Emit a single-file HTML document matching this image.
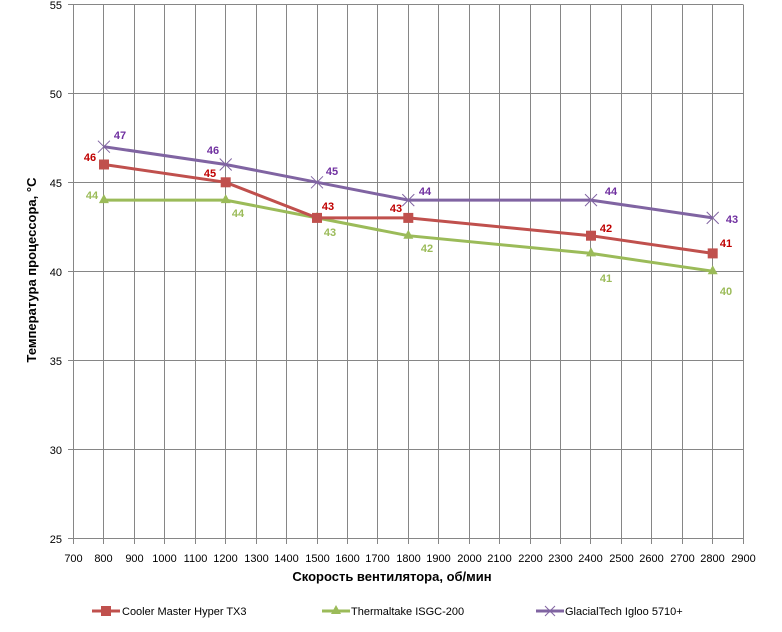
<!DOCTYPE html>
<html><head><meta charset="utf-8"><style>
body{margin:0;background:#fff}
svg{display:block;font-family:"Liberation Sans",sans-serif}
</style></head><body>
<svg width="782" height="632" viewBox="0 0 782 632">
<g stroke="#868686" stroke-width="1">
<line x1="73.5" y1="4.5" x2="73.5" y2="538.5"/>
<line x1="68" y1="4.5" x2="743" y2="4.5"/>
<line x1="68" y1="93.5" x2="743" y2="93.5"/>
<line x1="68" y1="182.5" x2="743" y2="182.5"/>
<line x1="68" y1="271.5" x2="743" y2="271.5"/>
<line x1="68" y1="360.5" x2="743" y2="360.5"/>
<line x1="68" y1="449.5" x2="743" y2="449.5"/>
<line x1="68" y1="538.5" x2="743" y2="538.5"/>
</g>
<g stroke="#868686" stroke-width="1" id="vg"></g>
<g font-size="11" fill="#000" text-anchor="end" id="yl">
<text x="62" y="9">55</text><text x="62" y="98">50</text><text x="62" y="187">45</text>
<text x="62" y="276">40</text><text x="62" y="365">35</text><text x="62" y="454">30</text><text x="62" y="543">25</text>
</g>
<g font-size="11" fill="#000" text-anchor="middle" id="xl"></g>
<text x="392" y="581" font-size="13" font-weight="bold" text-anchor="middle">Скорость вентилятора, об/мин</text>
<text transform="translate(36,270) rotate(-90)" font-size="13" font-weight="bold" text-anchor="middle">Температура процессора, °C</text>
<!-- series -->
<polyline fill="none" stroke="#9bbb59" stroke-width="3" points="103.9,200.1 225.7,200.1 317,217.9 408.3,235.7 591,253.4 712.7,271.2"/>
<polyline fill="none" stroke="#c0504d" stroke-width="3" points="103.9,164.5 225.7,182.3 317,217.9 408.3,217.9 591,235.7 712.7,253.4"/>
<polyline fill="none" stroke="#8064a2" stroke-width="3" points="103.9,146.7 225.7,164.5 317,182.3 408.3,200.1 591,200.1 712.7,217.9"/>
<g fill="#9bbb59">
<polygon points="103.9,194.1 98.9,203.1 108.9,203.1"/><polygon points="225.7,194.1 220.7,203.1 230.7,203.1"/>
<polygon points="317,211.9 312,220.9 322,220.9"/><polygon points="408.3,229.7 403.3,238.7 413.3,238.7"/>
<polygon points="591,247.4 586,256.4 596,256.4"/><polygon points="712.7,265.2 707.7,274.2 717.7,274.2"/>
</g>
<g fill="#c0504d">
<rect x="99" y="159.5" width="10" height="10"/><rect x="220.7" y="177.3" width="10" height="10"/>
<rect x="312" y="212.9" width="10" height="10"/><rect x="403.3" y="212.9" width="10" height="10"/>
<rect x="586" y="230.7" width="10" height="10"/><rect x="707.7" y="248.4" width="10" height="10"/>
</g>
<g stroke="#8064a2" stroke-width="1" id="xm"></g>
<g font-size="11" font-weight="bold" text-anchor="middle">
<g fill="#c00000">
<text x="90" y="161">46</text><text x="210" y="177">45</text><text x="328" y="210">43</text>
<text x="396" y="212">43</text><text x="606" y="232">42</text><text x="726" y="247">41</text></g>
<g fill="#7030a0">
<text x="120" y="139">47</text><text x="213" y="154">46</text><text x="332" y="175">45</text>
<text x="425" y="195">44</text><text x="611" y="195">44</text><text x="732" y="223">43</text></g>
<g fill="#9bbb59">
<text x="92" y="199">44</text><text x="238" y="217">44</text><text x="330" y="236">43</text>
<text x="427" y="252">42</text><text x="606" y="282">41</text><text x="726" y="295">40</text></g>
</g>
<!-- legend -->
<line x1="92" y1="611" x2="120" y2="611" stroke="#c0504d" stroke-width="3"/>
<rect x="101" y="606" width="10" height="10" fill="#c0504d"/>
<text x="122" y="615" font-size="11">Cooler Master Hyper TX3</text>
<line x1="322" y1="611" x2="350" y2="611" stroke="#9bbb59" stroke-width="3"/>
<polygon points="336,605 331,614 341,614" fill="#9bbb59"/>
<text x="351" y="615" font-size="11">Thermaltake ISGC-200</text>
<line x1="536" y1="611" x2="564" y2="611" stroke="#8064a2" stroke-width="3"/>
<path d="M545,606 L555,616 M555,606 L545,616" stroke="#8064a2"/>
<text x="565" y="615" font-size="11">GlacialTech Igloo 5710+</text>
</svg>
<script>
var ns="http://www.w3.org/2000/svg",vg=document.getElementById('vg'),xl=document.getElementById('xl'),xm=document.getElementById('xm');
for(var v=700;v<=2900;v+=100){var x=Math.round(73.5+(v-700)*0.3044-0.5)+0.5;
var l=document.createElementNS(ns,'line');l.setAttribute('x1',x);l.setAttribute('x2',x);l.setAttribute('y1',4.5);l.setAttribute('y2',544);vg.appendChild(l);
var t=document.createElementNS(ns,'text');t.setAttribute('x',x);t.setAttribute('y',562);t.textContent=v;xl.appendChild(t);}
[[103.9,146.7],[225.7,164.5],[317,182.3],[408.3,200.1],[591,200.1],[712.7,217.9]].forEach(function(p){
var d=document.createElementNS(ns,'path');d.setAttribute('d','M'+(p[0]-6)+','+(p[1]-6)+' L'+(p[0]+6)+','+(p[1]+6)+' M'+(p[0]+6)+','+(p[1]-6)+' L'+(p[0]-6)+','+(p[1]+6));xm.appendChild(d);});
</script>
</body></html>
